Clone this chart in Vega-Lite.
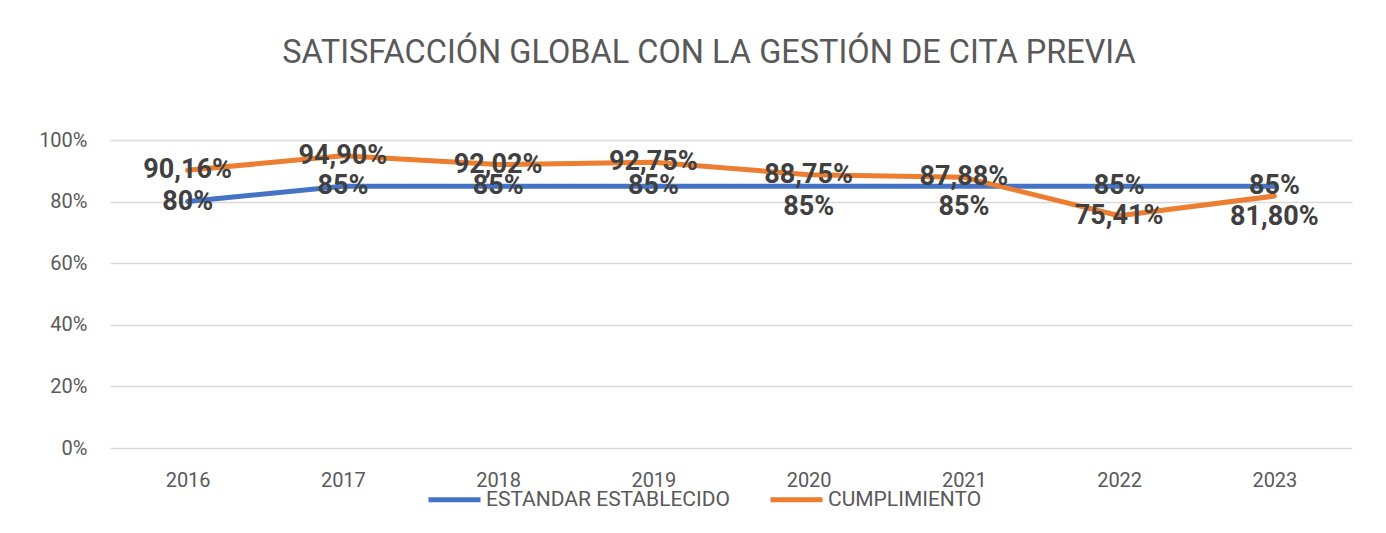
{
  "$schema": "https://vega.github.io/schema/vega-lite/v6.json",
  "width": 1242,
  "height": 308,
  "autosize": "none",
  "padding": {"left": 110, "top": 140, "right": 34, "bottom": 85},
  "background": "white",
  "config": {
    "font": "Roboto",
    "view": {"stroke": null}
  },
  "title": {
    "text": "SATISFACCIÓN GLOBAL CON LA GESTIÓN DE CITA PREVIA",
    "font": "Roboto",
    "fontSize": 32.5,
    "fontWeight": "normal",
    "color": "#595959",
    "anchor": "middle",
    "frame": "group",
    "dx": -22,
    "offset": 61
  },
  "data": {
    "values": [
      {"year": "2016", "serie": "ESTANDAR ESTABLECIDO", "valor": 0.80, "etiqueta": "80%"},
      {"year": "2017", "serie": "ESTANDAR ESTABLECIDO", "valor": 0.85, "etiqueta": "85%"},
      {"year": "2018", "serie": "ESTANDAR ESTABLECIDO", "valor": 0.85, "etiqueta": "85%"},
      {"year": "2019", "serie": "ESTANDAR ESTABLECIDO", "valor": 0.85, "etiqueta": "85%"},
      {"year": "2020", "serie": "ESTANDAR ESTABLECIDO", "valor": 0.85, "etiqueta": "85%"},
      {"year": "2021", "serie": "ESTANDAR ESTABLECIDO", "valor": 0.85, "etiqueta": "85%"},
      {"year": "2022", "serie": "ESTANDAR ESTABLECIDO", "valor": 0.85, "etiqueta": "85%"},
      {"year": "2023", "serie": "ESTANDAR ESTABLECIDO", "valor": 0.85, "etiqueta": "85%"},
      {"year": "2016", "serie": "CUMPLIMIENTO", "valor": 0.9016, "etiqueta": "90,16%"},
      {"year": "2017", "serie": "CUMPLIMIENTO", "valor": 0.9490, "etiqueta": "94,90%"},
      {"year": "2018", "serie": "CUMPLIMIENTO", "valor": 0.9202, "etiqueta": "92,02%"},
      {"year": "2019", "serie": "CUMPLIMIENTO", "valor": 0.9275, "etiqueta": "92,75%"},
      {"year": "2020", "serie": "CUMPLIMIENTO", "valor": 0.8875, "etiqueta": "88,75%"},
      {"year": "2021", "serie": "CUMPLIMIENTO", "valor": 0.8788, "etiqueta": "87,88%"},
      {"year": "2022", "serie": "CUMPLIMIENTO", "valor": 0.7541, "etiqueta": "75,41%"},
      {"year": "2023", "serie": "CUMPLIMIENTO", "valor": 0.8180, "etiqueta": "81,80%"}
    ]
  },
  "encoding": {
    "x": {
      "field": "year",
      "type": "ordinal",
      "scale": {"padding": 0.5},
      "axis": {
        "title": null,
        "labelAngle": 0,
        "labelFont": "Roboto",
        "labelFontSize": 20,
        "labelColor": "#595959",
        "labelPadding": 22,
        "ticks": false,
        "domain": false,
        "grid": false
      }
    },
    "y": {
      "field": "valor",
      "type": "quantitative",
      "scale": {"domain": [0, 1]},
      "axis": {
        "title": null,
        "values": [0, 0.2, 0.4, 0.6, 0.8, 1],
        "format": ".0%",
        "labelFont": "Roboto",
        "labelFontSize": 20,
        "labelColor": "#595959",
        "labelPadding": 23,
        "ticks": false,
        "domain": false,
        "gridColor": "#D9D9D9",
        "gridWidth": 1.5
      }
    }
  },
  "layer": [
    {
      "mark": {"type": "line", "strokeWidth": 5, "strokeCap": "round", "strokeJoin": "round"},
      "encoding": {
        "color": {
          "field": "serie",
          "type": "nominal",
          "scale": {"domain": ["ESTANDAR ESTABLECIDO", "CUMPLIMIENTO"], "range": ["#4472C4", "#ED7D31"]},
          "legend": {
            "title": null,
            "orient": "none",
            "direction": "horizontal",
            "legendX": 316,
            "legendY": 331,
            "symbolType": "stroke",
            "symbolSize": 2704,
            "symbolStrokeWidth": 5,
            "labelFont": "Roboto",
            "labelFontSize": 21,
            "labelColor": "#595959",
            "labelOffset": 3,
            "labelLimit": 0,
            "columnPadding": 30
          }
        }
      }
    },
    {
      "transform": [
        {"filter": "!((datum.serie == 'ESTANDAR ESTABLECIDO' && (datum.year == '2020' || datum.year == '2021')) || (datum.serie == 'CUMPLIMIENTO' && datum.year == '2023'))"}
      ],
      "mark": {"type": "text", "font": "Roboto", "fontSize": 27, "fontWeight": "bold", "color": "#404040", "baseline": "middle"},
      "encoding": {"text": {"field": "etiqueta"}}
    },
    {
      "transform": [
        {"filter": "(datum.serie == 'ESTANDAR ESTABLECIDO' && (datum.year == '2020' || datum.year == '2021')) || (datum.serie == 'CUMPLIMIENTO' && datum.year == '2023')"}
      ],
      "mark": {"type": "text", "font": "Roboto", "fontSize": 27, "fontWeight": "bold", "color": "#404040", "baseline": "middle", "dy": 21},
      "encoding": {"text": {"field": "etiqueta"}}
    }
  ]
}
